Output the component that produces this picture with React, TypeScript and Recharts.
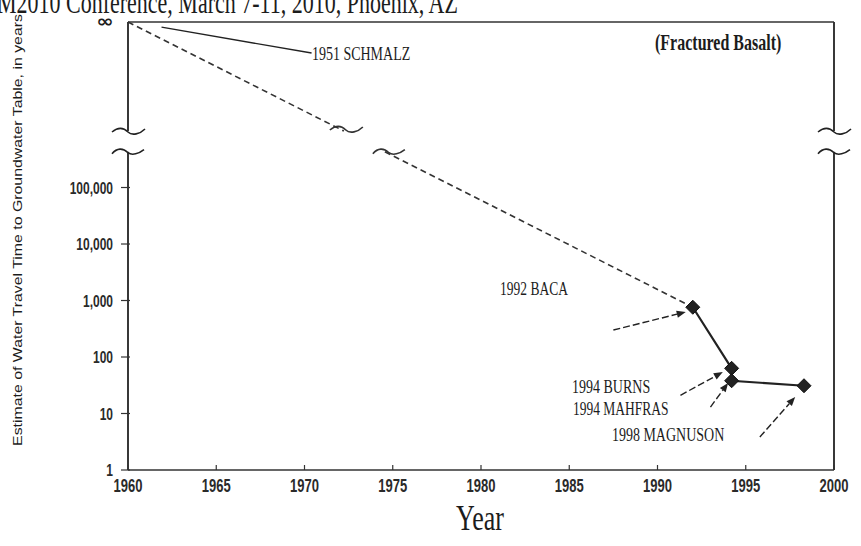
import React from 'react';
import {
  LineChart,
  Line,
  XAxis,
  YAxis,
  ReferenceLine,
  ReferenceDot,
  Customized,
} from 'recharts';

// plotting level used for the "∞" row at the top of the axis
const INF = 8.5e7;
// axis break band (between 10^5.63 and 10^6)
const BREAK_LOW = 4.3e5;
const BREAK_HIGH = 1e6;

const xTicks = [1960, 1965, 1970, 1975, 1980, 1985, 1990, 1995, 2000];
const xTickLabels = ['1960', '1965', '1970', '1975', '1980', '1985', '1990', '1995', '2000'];
const yTicks = [1, 10, 100, 1000, 10000, 100000, INF];
const yTickLabels = ['1', '10', '100', '1,000', '10,000', '100,000', '∞'];

// dashed trend from 1951 (infinite travel time) to 1992
const trendYears = [1960, 1992];
const trendValues = [INF, 760];

// study estimates
const studyNames = ['1992 BACA', '1994 BURNS', '1994 MAHFRAS', '1998 MAGNUSON'];
const studyYears = [1992, 1994.2, 1994.2, 1998.3];
const studyValues = [760, 63, 38, 31];

const studyData = studyYears.map((year, i) => ({ year, v: studyValues[i], name: studyNames[i] }));

const SERIF = '"Liberation Serif", "Times New Roman", serif';
const SANS = '"Liberation Sans", Arial, sans-serif';
const SY = 1.4; // the scanned figure is vertically stretched
const INK = '#1c1c1c';

// position of the break band along the trend segment (log axis => linear in log10)
const L10 = Math.log10;
const tHigh = (L10(trendValues[0]) - L10(BREAK_HIGH)) / (L10(trendValues[0]) - L10(trendValues[1]));
const tLow = (L10(trendValues[0]) - L10(BREAK_LOW)) / (L10(trendValues[0]) - L10(trendValues[1]));

function SText(props: any) {
  const { x, y, size, family = SERIF, anchor = 'start', weight = 'normal', children, sy = SY, sx = 1, fill = INK } = props;
  return (
    <text
      transform={`translate(${x},${y}) scale(${sx},${sy})`}
      x={0}
      y={0}
      fontSize={size}
      fontFamily={family}
      textAnchor={anchor}
      fontWeight={weight}
      fill={fill}
    >
      {children}
    </text>
  );
}

const upperCurlPath = (cx: number, cy: number) =>
  `M${cx - 16},${cy + 1} C${cx - 10},${cy - 4} ${cx - 5},${cy - 4} ${cx},${cy + 1} C${cx + 4},${cy + 5} ${cx + 12},${cy + 3} ${cx + 17},${cy - 2}`;
const lowerCurlPath = (cx: number, cy: number) =>
  `M${cx - 16},${cy + 2} C${cx - 11},${cy - 4} ${cx - 5},${cy - 4} ${cx},${cy + 1} C${cx + 4},${cy + 4} ${cx + 11},${cy + 2} ${cx + 16},${cy - 2}`;

const XTick = (props: any) => {
  const { x, y, payload } = props;
  const idx = xTicks.indexOf(payload.value);
  return (
    <g>
      <line x1={x} x2={x} y1={y} y2={y - 5} stroke="#333" strokeWidth={1.2} />
      <SText x={x} y={y + 22} size={13} family={SANS} anchor="middle" weight="bold" fill="#2a2a2a">
        {idx >= 0 ? xTickLabels[idx] : String(payload.value)}
      </SText>
    </g>
  );
};

const YTick = (props: any) => {
  const { x, y, payload } = props;
  const idx = yTicks.indexOf(payload.value);
  const label = idx >= 0 ? yTickLabels[idx] : String(payload.value);
  if (payload.value === INF) {
    return (
      <SText x={x - 23} y={y + 5} size={17} family='"DejaVu Sans", sans-serif' anchor="middle" weight="bold" sx={1.25} sy={1}>
        {label}
      </SText>
    );
  }
  return (
    <g>
      <line x1={x - 7} x2={x + 2} y1={y} y2={y} stroke="#333" strokeWidth={1.2} />
      <SText x={x - 15} y={y + 6} size={12} family={SANS} anchor="end" weight="bold" fill="#2a2a2a">
        {label}
      </SText>
    </g>
  );
};

const Diamond = (props: any) => {
  const { cx, cy, index } = props;
  if (cx == null || cy == null) return <g key={`d${index}`} />;
  const s = 7;
  return (
    <path
      key={`d${index}`}
      d={`M${cx},${cy - s} L${cx + s},${cy} L${cx},${cy + s} L${cx - s},${cy} Z`}
      fill="#222"
      stroke="#111"
      strokeWidth={1}
    />
  );
};

const upperCurl = (p: any) => <path d={upperCurlPath(p.cx, p.cy)} fill="none" stroke="#222" strokeWidth={1.6} />;
const lowerCurl = (p: any) => <path d={lowerCurlPath(p.cx, p.cy)} fill="none" stroke="#222" strokeWidth={1.6} />;

const trendShape = (p: any) => {
  const { x1, y1, x2, y2 } = p;
  if ([x1, y1, x2, y2].some((v) => v == null || isNaN(v))) return <g />;
  const ax = x1 + (x2 - x1) * tHigh;
  const ay = y1 + (y2 - y1) * tHigh;
  const bx = x1 + (x2 - x1) * tLow;
  const by = y1 + (y2 - y1) * tLow;
  return (
    <g>
      <line x1={x1} y1={y1} x2={ax} y2={ay} stroke="#333" strokeWidth={1.6} strokeDasharray="6 4" />
      <line x1={bx} y1={by} x2={x2} y2={y2} stroke="#333" strokeWidth={1.6} strokeDasharray="6 4" />
      <path d={upperCurlPath(ax + 2, ay - 2)} fill="none" stroke="#333" strokeWidth={1.6} />
      <path d={lowerCurlPath(bx + 4, by)} fill="none" stroke="#333" strokeWidth={1.6} />
    </g>
  );
};

const arrowShape = (dashed: boolean) => (p: any) => {
  const { x1, y1, x2, y2 } = p;
  if ([x1, y1, x2, y2].some((v) => v == null || isNaN(v))) return <g />;
  const ang = Math.atan2(y2 - y1, x2 - x1);
  const L = 9;
  const W = 3.6;
  const bx = x2 - L * Math.cos(ang);
  const by = y2 - L * Math.sin(ang);
  const px = -Math.sin(ang) * W;
  const py = Math.cos(ang) * W;
  return (
    <g>
      <line
        x1={x1}
        y1={y1}
        x2={dashed ? bx : x2}
        y2={dashed ? by : y2}
        stroke="#222"
        strokeWidth={1.4}
        strokeDasharray={dashed ? '7 3' : undefined}
      />
      {dashed && <polygon points={`${x2},${y2} ${bx + px},${by + py} ${bx - px},${by - py}`} fill="#222" />}
    </g>
  );
};

const noteShape = (label: string, size: number, weight = 'normal') => (p: any) => (
  <SText x={p.cx} y={p.cy} size={size} weight={weight}>
    {label}
  </SText>
);

const Statics = () => (
  <g>
    <SText x={-3} y={13} size={22}>
      M2010 Conference, March 7-11, 2010, Phoenix, AZ
    </SText>
    <SText x={480} y={530} size={26} anchor="middle">
      Year
    </SText>
    <text
      transform={`translate(22,230) scale(1,1.22) rotate(-90)`}
      x={0}
      y={0}
      fontSize={13}
      fontFamily={SANS}
      textAnchor="middle"
      fill={INK}
    >
      Estimate of Water Travel Time to Groundwater Table, in years
    </text>
  </g>
);

const AX = { stroke: '#222', strokeWidth: 1.8, ifOverflow: 'visible' as const };

export default function App() {
  return (
    <div style={{ position: 'absolute', left: 0, top: 0, background: '#fff' }}>
      <LineChart width={861} height={546} margin={{ top: 22, right: 27, bottom: 0, left: 0 }}>
        <XAxis
          dataKey="year"
          type="number"
          domain={[1960, 2000]}
          ticks={xTicks}
          interval={0}
          allowDataOverflow
          height={76}
          tickSize={0}
          tickMargin={0}
          tickLine={false}
          tick={<XTick />}
          axisLine={{ stroke: '#333', strokeWidth: 1.4 }}
        />
        <YAxis
          type="number"
          scale="log"
          domain={[1, INF]}
          ticks={yTicks}
          interval={0}
          allowDataOverflow
          width={128}
          tickSize={0}
          tickMargin={0}
          tickLine={false}
          tick={<YTick />}
          axisLine={false}
        />
        {/* frame: left and right axes with breaks, top line at the ∞ level */}
        <ReferenceLine segment={[{ x: 1960, y: 1 }, { x: 1960, y: BREAK_LOW }]} {...AX} />
        <ReferenceLine segment={[{ x: 1960, y: BREAK_HIGH }, { x: 1960, y: INF }]} {...AX} />
        <ReferenceLine segment={[{ x: 2000, y: 1 }, { x: 2000, y: BREAK_LOW }]} {...AX} />
        <ReferenceLine segment={[{ x: 2000, y: BREAK_HIGH }, { x: 2000, y: INF }]} {...AX} />
        <ReferenceLine segment={[{ x: 1960, y: INF }, { x: 2000, y: INF }]} stroke="#333" strokeWidth={1.4} ifOverflow="visible" />
        <ReferenceDot x={1960} y={BREAK_HIGH} r={0} shape={upperCurl} ifOverflow="visible" />
        <ReferenceDot x={1960} y={BREAK_LOW} r={0} shape={lowerCurl} ifOverflow="visible" />
        <ReferenceDot x={2000} y={BREAK_HIGH} r={0} shape={upperCurl} ifOverflow="visible" />
        <ReferenceDot x={2000} y={BREAK_LOW} r={0} shape={lowerCurl} ifOverflow="visible" />

        {/* dashed trend with the axis break */}
        <ReferenceLine
          segment={[
            { x: trendYears[0], y: trendValues[0] },
            { x: trendYears[1], y: trendValues[1] },
          ]}
          shape={trendShape}
          ifOverflow="visible"
        />

        <Line
          data={studyData}
          dataKey="v"
          stroke="#222"
          strokeWidth={2.2}
          dot={<Diamond />}
          isAnimationActive={false}
        />

        <ReferenceLine segment={[{ x: 1961.9, y: 6.9e7 }, { x: 1970.4, y: 2.4e7 }]} shape={arrowShape(false)} />
        <ReferenceLine segment={[{ x: 1987.5, y: 300 }, { x: 1991.6, y: 626 }]} shape={arrowShape(true)} />
        <ReferenceLine segment={[{ x: 1991.3, y: 21 }, { x: 1993.7, y: 54 }]} shape={arrowShape(true)} />
        <ReferenceLine segment={[{ x: 1993.0, y: 13 }, { x: 1994.0, y: 34.7 }]} shape={arrowShape(true)} />
        <ReferenceLine segment={[{ x: 1995.8, y: 3.84 }, { x: 1997.8, y: 19.6 }]} shape={arrowShape(true)} />

        <ReferenceDot x={1970.42} y={1.81e7} r={0} shape={noteShape('1951 SCHMALZ', 14)} />
        <ReferenceDot x={1989.86} y={2.72e7} r={0} shape={noteShape('(Fractured Basalt)', 16, 'bold')} />
        <ReferenceDot x={1981.08} y={1250} r={0} shape={noteShape(studyNames[0], 13.5)} />
        <ReferenceDot x={1985.16} y={23} r={0} shape={noteShape(studyNames[1], 14)} />
        <ReferenceDot x={1985.21} y={9.4} r={0} shape={noteShape(studyNames[2], 13.5)} />
        <ReferenceDot x={1987.42} y={3.26} r={0} shape={noteShape(studyNames[3], 14)} />

        <Customized component={<Statics />} />
      </LineChart>
    </div>
  );
}
